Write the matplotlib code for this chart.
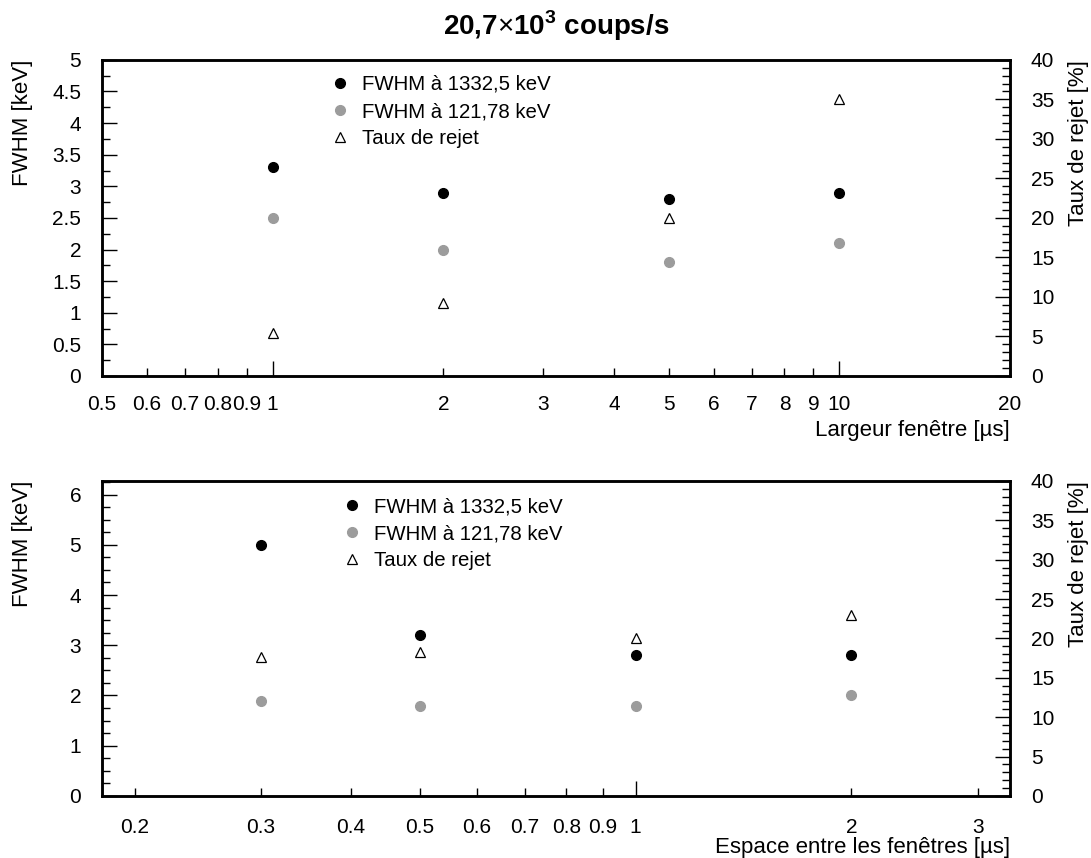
import numpy as np
import matplotlib
matplotlib.use("Agg")
import matplotlib.pyplot as plt
from matplotlib.lines import Line2D
from matplotlib.ticker import FixedLocator, FormatStrFormatter, MultipleLocator

plt.rcParams['font.family'] = ['Liberation Sans', 'DejaVu Sans']
plt.rcParams['mathtext.fontset'] = 'custom'
plt.rcParams['mathtext.rm'] = 'Liberation Sans'
plt.rcParams['mathtext.bf'] = 'Liberation Sans:bold'

# data
largeur = [1, 2, 5, 10]
fwhm1332_largeur = [3.3, 2.9, 2.8, 2.9]
fwhm121_largeur = [2.5, 2.0, 1.8, 2.1]
rejet_largeur = [5.4, 9.2, 20.0, 35.0]

espace = [0.3, 0.5, 1, 2]
fwhm1332_espace = [5.0, 3.2, 2.8, 2.8]
fwhm121_espace = [1.9, 1.8, 1.8, 2.0]
rejet_espace = [17.7, 18.3, 20.0, 23.0]

labels = ["FWHM à 1332,5 keV", "FWHM à 121,78 keV", "Taux de rejet"]
grey = '#9c9c9c'
fs = 15


def panel(ax, x, y1, y2, rej, xlim, ylim, ymaj, xmaj, xmin, xlabel, leg_pos,
          xpad, xlabpad):
    ax2 = ax.twinx()
    ax.set_xscale('log')
    ax.plot(x, y1, 'o', color='black', ms=7)
    ax.plot(x, y2, 'o', color=grey, ms=7)
    ax2.plot(x, rej, '^', mfc='none', mec='black', mew=0.9, ms=7.5)

    ax.set_xlim(*xlim)
    ax.set_ylim(*ylim)
    ax2.set_ylim(0, 40)

    ax.xaxis.set_major_locator(FixedLocator(xmaj))
    ax.xaxis.set_minor_locator(FixedLocator(xmin))
    ax.xaxis.set_major_formatter(FormatStrFormatter('%g'))
    ax.xaxis.set_minor_formatter(FormatStrFormatter('%g'))
    ax.yaxis.set_major_locator(MultipleLocator(ymaj))
    ax.yaxis.set_minor_locator(MultipleLocator(0.25))
    ax.yaxis.set_major_formatter(FormatStrFormatter('%g'))
    ax2.yaxis.set_major_locator(MultipleLocator(5))
    ax2.yaxis.set_minor_locator(MultipleLocator(1))

    ax.tick_params(axis='x', which='both', direction='in', top=False,
                   labelsize=fs, pad=xpad, width=1)
    ax.tick_params(axis='x', which='major', length=11)
    ax.tick_params(axis='x', which='minor', length=5.5)
    ax.tick_params(axis='y', which='both', direction='in', right=False,
                   labelsize=fs, pad=15, width=1)
    ax.tick_params(axis='y', which='major', length=11)
    ax.tick_params(axis='y', which='minor', length=5.5)
    ax2.tick_params(axis='y', which='both', direction='in',
                    labelsize=fs, pad=15, width=1)
    ax2.tick_params(axis='y', which='major', length=11)
    ax2.tick_params(axis='y', which='minor', length=5.5)

    for a in (ax, ax2):
        for s in a.spines.values():
            s.set_linewidth(1.8)

    ax.set_xlabel(xlabel, fontsize=16, loc='right', labelpad=xlabpad)
    ax.set_ylabel("FWHM [keV]", fontsize=16, loc='top')
    ax.yaxis.set_label_coords(-0.076, 1.0)
    ax2.set_ylabel("Taux de rejet [%]", fontsize=16, loc='top')
    ax2.yaxis.set_label_coords(1.064, 1.0)

    handles = [Line2D([], [], ls='none', marker='o', color='black', ms=7),
               Line2D([], [], ls='none', marker='o', color=grey, ms=7),
               Line2D([], [], ls='none', marker='^', mfc='none', mec='black',
                      mew=0.9, ms=7.5)]
    ax2.legend(handles, labels, loc='upper left', bbox_to_anchor=leg_pos,
               bbox_transform=ax.figure.transFigure, frameon=False,
               fontsize=14.7, borderpad=0, borderaxespad=0, handlelength=1.0,
               handletextpad=0.6, labelspacing=0.4)


fig = plt.figure(figsize=(10.91, 8.58), dpi=100)
ax_top = fig.add_axes([0.0935, 0.5618, 0.8323, 0.3684])
ax_bot = fig.add_axes([0.0935, 0.0723, 0.8323, 0.3671])

panel(ax_top, largeur, fwhm1332_largeur, fwhm121_largeur, rejet_largeur,
      (0.5, 20), (0, 5), 0.5, [1, 10],
      [0.5, 0.6, 0.7, 0.8, 0.9, 2, 3, 4, 5, 6, 7, 8, 9, 20],
      "Largeur fenêtre [µs]", (0.302, 0.9126), 14, 4)

panel(ax_bot, espace, fwhm1332_espace, fwhm121_espace, rejet_espace,
      (0.18, 3.33), (0, 6.27), 1, [1],
      [0.2, 0.3, 0.4, 0.5, 0.6, 0.7, 0.8, 0.9, 2, 3],
      "Espace entre les fenêtres [µs]", (0.313, 0.4207), 16, 0)

fig.text(0.5096, 0.97, r"20,7$\times$10$^{\mathbf{3}}$ coups/s",
         ha='center', va='center', fontsize=20, fontweight='bold')

fig.savefig("out.png", dpi=100)
